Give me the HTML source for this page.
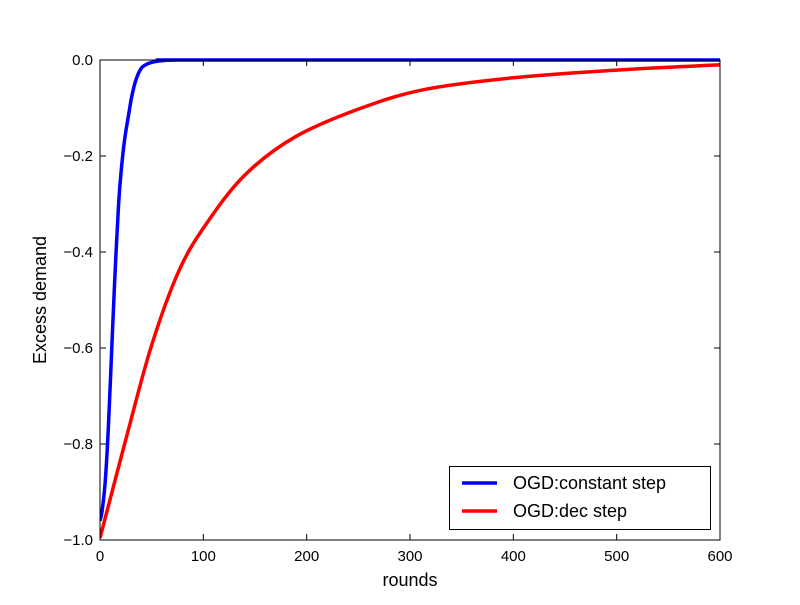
<!DOCTYPE html>
<html><head><meta charset="utf-8"><style>
body{margin:0;background:#fff;}
svg text{font-family:"Liberation Sans","DejaVu Sans",sans-serif;}
</style></head><body>
<svg id="chart" width="800" height="600" xmlns="http://www.w3.org/2000/svg">
<defs><clipPath id="clip"><rect x="100" y="58" width="620" height="484"/></clipPath></defs>
<rect width="800" height="600" fill="#fff"/>
<g id="series" clip-path="url(#clip)"></g>
<g id="plot"></g>
</svg>
<script>
const xTicks=[0,100,200,300,400,500,600];
const yTicks=[0,-0.2,-0.4,-0.6,-0.8,-1.0];
const yTickLabels=["0.0","\u22120.2","\u22120.4","\u22120.6","\u22120.8","\u22121.0"];
const constRounds=[0,2,5,8,11,14,18,21,24,28,31,35,40,46,53,62,75,100,600];
const constValues=[-0.96,-0.94,-0.88,-0.77,-0.62,-0.47,-0.3,-0.22,-0.163,-0.11,-0.073,-0.04,-0.017,-0.008,-0.0035,-0.001,0,0,0];
const decRounds=[0,27,50,76,102,140,189,253,315,400,500,600];
const decValues=[-0.996,-0.774,-0.594,-0.441,-0.344,-0.24,-0.16,-0.10,-0.061,-0.037,-0.021,-0.01];
const X0=100,X1=720,Y0=60,Y1=540;
const sx=v=>X0+(v-0)/(600-0)*(X1-X0);
const sy=v=>Y0+(0-v)/(0-(-1))*(Y1-Y0);
const NS="http://www.w3.org/2000/svg";
const g=document.getElementById('plot');
const gs=document.getElementById('series');
function mk(t,a,txt,parent){const e=document.createElementNS(NS,t);for(const k in a)e.setAttribute(k,a[k]);if(txt!==undefined)e.textContent=txt;(parent||g).appendChild(e);return e;}
function pathFor(xs,ys){
  const p=xs.map((x,i)=>[sx(x),sy(ys[i])]);
  let d=`M${p[0][0]},${p[0][1]}`;
  for(let i=0;i<p.length-1;i++){
    const p0=p[Math.max(0,i-1)],p1=p[i],p2=p[i+1],p3=p[Math.min(p.length-1,i+2)];
    const c1=[p1[0]+(p2[0]-p0[0])/6,p1[1]+(p2[1]-p0[1])/6];
    const c2=[p2[0]-(p3[0]-p1[0])/6,p2[1]-(p3[1]-p1[1])/6];
    d+=`C${c1[0]},${c1[1]} ${c2[0]},${c2[1]} ${p2[0]},${p2[1]}`;
  }
  return d;
}
let e;
e=mk('path',{d:pathFor(decRounds,decValues),fill:'none',stroke:'#ff0000','stroke-width':3.5},undefined,gs);


e=mk('path',{d:pathFor(constRounds,constValues),fill:'none',stroke:'#0000ff','stroke-width':3.5},undefined,gs);


e=mk('rect',{x:X0,y:Y0,width:X1-X0,height:Y1-Y0,fill:'none',stroke:'#000','stroke-width':1});


xTicks.forEach(v=>{
  const x=sx(v);
  mk('line',{x1:x,x2:x,y1:Y1,y2:Y1-6,stroke:'#000'});
  mk('line',{x1:x,x2:x,y1:Y0,y2:Y0+6,stroke:'#000'});
  e=mk('text',{x:x,y:Y1+21,'font-size':15,'text-anchor':'middle'},String(v));
  
  
});
yTicks.forEach((v,i)=>{
  const y=sy(v);
  mk('line',{x1:X0,x2:X0+6,y1:y,y2:y,stroke:'#000'});
  mk('line',{x1:X1,x2:X1-6,y1:y,y2:y,stroke:'#000'});
  e=mk('text',{x:X0-7,y:y+5,'font-size':15,'text-anchor':'end'},yTickLabels[i]);
  
  
});
e=mk('text',{x:410,y:586,'font-size':18,'text-anchor':'middle'},'rounds');


e=mk('text',{x:0,y:0,'font-size':18,'text-anchor':'middle',transform:'translate(46,300) rotate(-90)'},'Excess demand');


e=mk('rect',{x:449.5,y:466.5,width:261,height:63,fill:'#fff',stroke:'#000'});


const legNames=['OGD:constant step','OGD:dec step'],legCols=['#0000ff','#ff0000'];
legNames.forEach((n,i)=>{
  const y=483+i*28;
  mk('line',{x1:462,x2:497,y1:y,y2:y,stroke:legCols[i],'stroke-width':3.5});
  e=mk('text',{x:513,y:y+6,'font-size':18},n);
  
  
});
</script>
</body></html>
